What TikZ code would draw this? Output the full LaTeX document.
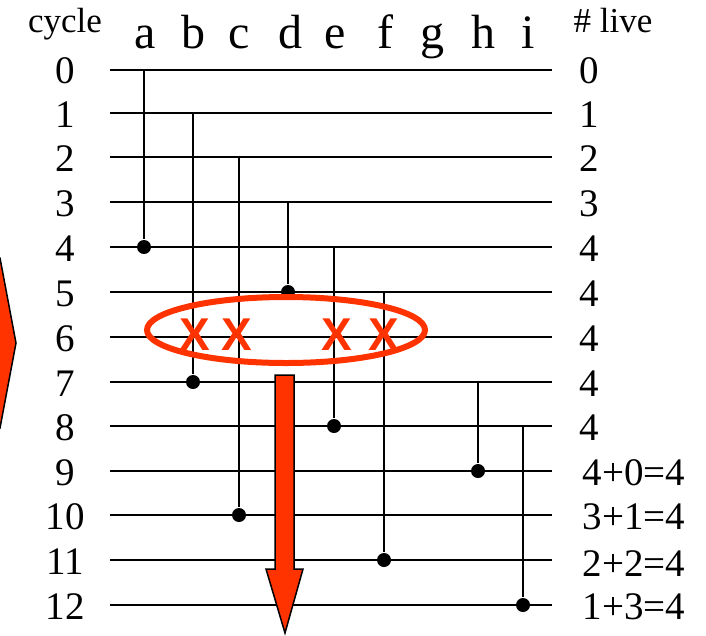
\documentclass[tikz,border=0pt]{standalone}
\usepackage{fontspec}
\setmainfont{Liberation Serif}
\newfontfamily\xfont{Liberation Sans}
\usepackage{xcolor}
\usepackage{tikz}
\definecolor{hotred}{RGB}{255,51,0}
\tikzset{
  wire/.style={
    line width=1.8pt
  },
  used/.style={
    circle,
    fill=black,
    inner sep=0pt,
    minimum size=14pt
  },
  cyclenum/.style={
    font=\fontsize{39}{39}\selectfont,
    inner sep=0pt
  },
  livenum/.style={
    font=\fontsize{39}{39}\selectfont,
    inner sep=0pt,
    anchor=west
  },
  varname/.style={
    font=\fontsize{48}{48}\selectfont,
    inner sep=0pt,
    anchor=base
  },
  heading/.style={
    font=\fontsize{35}{35}\selectfont,
    inner sep=0pt,
    anchor=base
  },
  kill/.style={
    font=\xfont\bfseries\fontsize{46}{46}\selectfont,
    text=hotred,
    inner sep=0pt
  }
}

\begin{document}
\begin{tikzpicture}[x=1pt, y=-1pt, line width=1.8pt]
  \useasboundingbox (0,0) rectangle (706,635);

  % left arrow, cut by the edge
  \fill[hotred, draw=black, line width=1.5pt]
    (-30,258) -- (0,258) -- (16,343) -- (0,428) -- (-30,428) -- cycle;

  % headings
  \node[heading] (hcycle) at (65,32) {cycle};
  \node[heading] (hlive) at (613,32) {\# live};
  \node[varname] (va) at (145,48) {a};
  \node[varname] (vb) at (193,48) {b};
  \node[varname] (vc) at (239,48) {c};
  \node[varname] (vd) at (290,48) {d};
  \node[varname] (ve) at (335,48) {e};
  \node[varname] (vf) at (385,48) {f};
  \node[varname] (vg) at (432,48) {g};
  \node[varname] (vh) at (483,48) {h};
  \node[varname] (vi) at (528,48) {i};

  % cycle rows
  \coordinate (L0) at (110,70);   \coordinate (R0) at (552,70);
  \coordinate (L1) at (110,113);  \coordinate (R1) at (552,113);
  \coordinate (L2) at (110,157);  \coordinate (R2) at (552,157);
  \coordinate (L3) at (110,202);  \coordinate (R3) at (552,202);
  \coordinate (L4) at (110,247);  \coordinate (R4) at (552,247);
  \coordinate (L5) at (110,292);  \coordinate (R5) at (552,292);
  \coordinate (L6) at (110,337);  \coordinate (R6) at (552,337);
  \coordinate (L7) at (110,382);  \coordinate (R7) at (552,382);
  \coordinate (L8) at (110,426);  \coordinate (R8) at (552,426);
  \coordinate (L9) at (110,471);  \coordinate (R9) at (552,471);
  \coordinate (L10) at (110,515); \coordinate (R10) at (552,515);
  \coordinate (L11) at (110,560); \coordinate (R11) at (552,560);
  \coordinate (L12) at (110,605); \coordinate (R12) at (552,605);
  \draw[wire] (L0) -- (R0);
  \draw[wire] (L1) -- (R1);
  \draw[wire] (L2) -- (R2);
  \draw[wire] (L3) -- (R3);
  \draw[wire] (L4) -- (R4);
  \draw[wire] (L5) -- (R5);
  \draw[wire] (L6) -- (R6);
  \draw[wire] (L7) -- (R7);
  \draw[wire] (L8) -- (R8);
  \draw[wire] (L9) -- (R9);
  \draw[wire] (L10) -- (R10);
  \draw[wire] (L11) -- (R11);
  \draw[wire] (L12) -- (R12);

  \node[cyclenum] (c0) at (65,71) {0};
  \node[cyclenum] (c1) at (65,115) {1};
  \node[cyclenum] (c2) at (65,159) {2};
  \node[cyclenum] (c3) at (65,204) {3};
  \node[cyclenum] (c4) at (65,249) {4};
  \node[cyclenum] (c5) at (65,294) {5};
  \node[cyclenum] (c6) at (65,339) {6};
  \node[cyclenum] (c7) at (65,384) {7};
  \node[cyclenum] (c8) at (65,428) {8};
  \node[cyclenum] (c9) at (65,473) {9};
  \node[cyclenum] (c10) at (65,517) {10};
  \node[cyclenum] (c11) at (65,562) {11};
  \node[cyclenum] (c12) at (65,607) {12};

  \node[livenum] (n0) at (579,71) {0};
  \node[livenum] (n1) at (579,115) {1};
  \node[livenum] (n2) at (579,159) {2};
  \node[livenum] (n3) at (579,204) {3};
  \node[livenum] (n4) at (579,249) {4};
  \node[livenum] (n5) at (579,294) {4};
  \node[livenum] (n6) at (579,339) {4};
  \node[livenum] (n7) at (579,384) {4};
  \node[livenum] (n8) at (579,428) {4};
  \node[livenum] (n9) at (582,473) {4+0=4};
  \node[livenum] (n10) at (582,517) {3+1=4};
  \node[livenum] (n11) at (582,564) {2+2=4};
  \node[livenum] (n12) at (582,607) {1+3=4};

  % live ranges
  \coordinate (Sa) at (144,70);
  \node[used] (Ea) at (144,247) {};
  \draw (Sa) -- (Ea);
  \coordinate (Sb) at (193,113);
  \node[used] (Eb) at (193,382) {};
  \draw (Sb) -- (Eb);
  \coordinate (Sc) at (239,157);
  \node[used] (Ec) at (239,515) {};
  \draw (Sc) -- (Ec);
  \coordinate (Sd) at (288,202);
  \node[used] (Ed) at (288,292) {};
  \draw (Sd) -- (Ed);
  \coordinate (Se) at (334,247);
  \node[used] (Ee) at (334,426) {};
  \draw (Se) -- (Ee);
  \coordinate (Sf) at (384,292);
  \node[used] (Ef) at (384,560) {};
  \draw (Sf) -- (Ef);
  \coordinate (Sh) at (478,382);
  \node[used] (Eh) at (478,471) {};
  \draw (Sh) -- (Eh);
  \coordinate (Si) at (523,426);
  \node[used] (Ei) at (523,605) {};
  \draw (Si) -- (Ei);

  % interference at cycle 6
  \draw[hotred, line width=6pt] (286,330) ellipse [x radius=139, y radius=33];
  \node[kill] (xb) at (195,335) {X};
  \node[kill] (xc) at (237,335) {X};
  \node[kill] (xe) at (337,335) {X};
  \node[kill] (xf) at (384,335) {X};

  % down arrow
  \fill[hotred, draw=black, line width=1.5pt]
    (275,375) -- (294,375) -- (294,569) -- (303,569) -- (285,633)
    -- (266,569) -- (275,569) -- cycle;
\end{tikzpicture}
\end{document}
